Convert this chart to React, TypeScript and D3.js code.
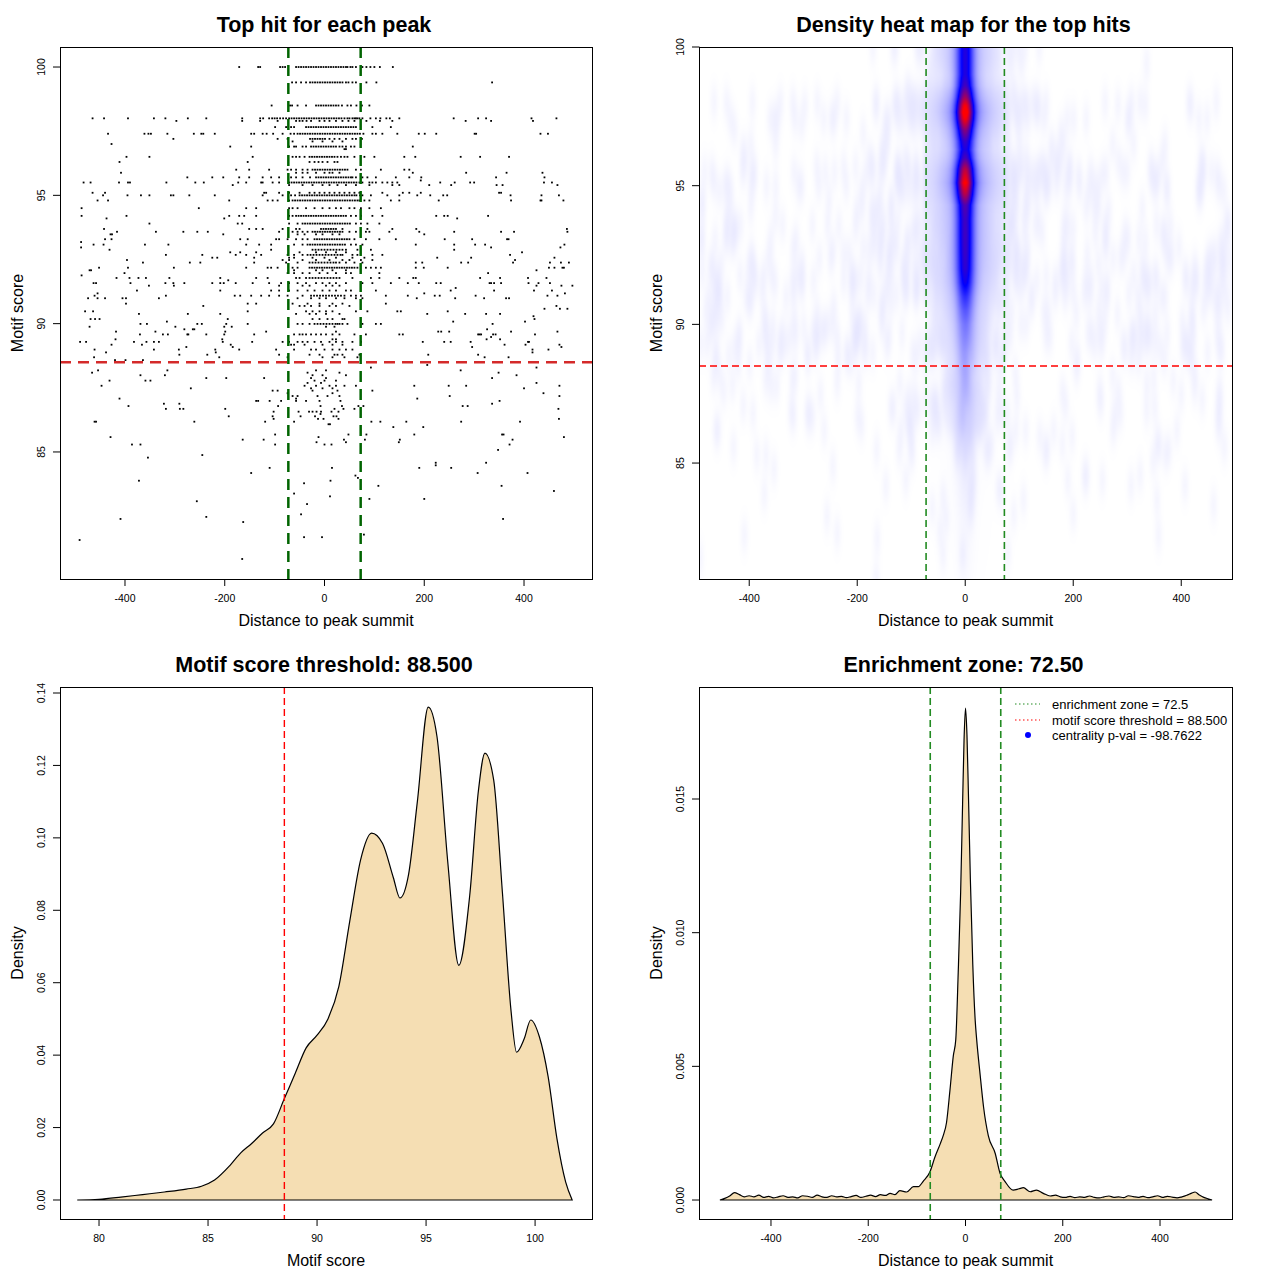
import React, { useMemo } from 'react';
import * as d3 from 'd3';

const FONT = '"Liberation Sans", Arial, Helvetica, sans-serif';

// thresholds shown in the figure
const enrichmentZone = 72.5;
const scoreThreshold = 88.5;
const centralityPval = '-98.7622';

// tick labels
const distanceTicks = [-400, -200, 0, 200, 400];
const scoreTicks = [85, 90, 95, 100];
const scoreDensityXTicks = [80, 85, 90, 95, 100];
const scoreDensityYTicks = [0, 0.02, 0.04, 0.06, 0.08, 0.1, 0.12, 0.14];
const distDensityYTicks = [0, 0.005, 0.01, 0.015];

// top hits, grouped by motif score: [score, distances to summit]
type Row = [number, number[]];
const upperHits: Row[] = [
  [100.0, [-171, -133, -129, -89, -84, -79, -57, -52, -47, -42, -37, -32, -27, -22, -17, -12, -7, -2, 3, 8, 13, 18, 23, 28, 33, 38, 43, 46, 52, 56, 63, 76, 84, 92, 100, 111, 137]],
  [99.4, [-65, -57, -47, -37, -29, -24, -19, -14, -9, -4, 1, 6, 11, 16, 21, 26, 31, 36, 43, 48, 56, 63, 84, 104, 336]],
  [98.5, [-106, -69, -65, -54, -37, -17, -12, -7, -2, 3, 8, 13, 18, 23, 28, 35, 46, 53, 64, 75, 90]],
  [98.0, [-465, -442, -394, -342, -319, -274, -237, -165, -129, -123, -111, -105, -100, -95, -89, -83, -77, -71, -66, -61, -56, -51, -46, -41, -36, -31, -26, -21, -16, -11, -6, -1, 4, 9, 14, 19, 24, 29, 34, 40, 46, 50, 56, 60, 63, 66, 70, 76, 92, 103, 112, 124, 131, 150, 259, 308, 324, 415, 465]],
  [97.9, [-297, -165, -129, -94, -57, -50, -44, -36, -27, -10, 0, 10, 23, 36, 48, 60, 84, 111, 136, 283, 334, 418]],
  [97.66, [-99, -77, -67, -61, -37, -32, -27, -22, -17, -12, -7, -2, 3, 8, 13, 18, 23, 28, 33, 38, 43, 48, 53, 58, 63, 96, 133]],
  [97.4, [-434, -361, -353, -348, -315, -262, -247, -243, -220, -147, -141, -124, -116, -103, -84, -68, -61, -54, -49, -44, -39, -34, -29, -24, -19, -14, -9, -4, 1, 6, 11, 16, 21, 26, 31, 36, 41, 46, 51, 56, 61, 66, 71, 78, 96, 103, 116, 146, 189, 201, 224, 301, 304, 433, 448]],
  [97.2, [-303, -94, -74, -29, -24, -19, -14, -9, -4, 1, 10, 20, 30, 43, 56, 63, 75]],
  [97.1, [-64, -24, -4, 16, 36]],
  [97.0, [-427]],
  [96.9, [-189, -147, -71, -61, -57, -44, -37, -27, -22, -17, -12, -7, -2, 3, 8, 13, 18, 23, 30, 36, 43, 53, 60, 177]],
  [96.8, [40, 43]],
  [96.5, [-397, -351, -144, -64, -57, -50, -40, -30, -25, -20, -15, -10, -5, 0, 5, 10, 15, 20, 26, 33, 40, 46, 60, 80, 100, 160, 182, 273, 312, 370]],
  [96.3, [-411, -154, -30, -20, -12, -4, 6, 20, 26]],
  [96.0, [-177, -151, -111, -74, -67, -57, -44, -34, -24, -19, -14, -9, -4, 1, 6, 11, 16, 21, 26, 31, 36, 41, 46, 63, 73, 113, 160, 170]],
  [95.88, [-408, -57, -44, -34, -17, 0, 10, 16, 30, 177, 284, 365, 437]],
  [95.7, [-275, -225, -203, -171, -151, -124, -107, -91, -67, -57, -44, -29, -17, -12, -7, -2, 3, 8, 13, 18, 23, 28, 33, 38, 43, 48, 53, 56, 63, 76, 86, 103, 143, 170, 194, 344, 441]],
  [95.58, [193]],
  [95.5, [-483, -469, -412, -394, -390, -317, -259, -242, -173, -157, -127, -124, -104, -91, -71, -66, -61, -56, -51, -46, -41, -36, -31, -26, -21, -16, -11, -6, -1, 4, 9, 14, 19, 24, 29, 34, 39, 44, 49, 54, 59, 64, 70, 76, 90, 96, 103, 116, 126, 136, 146, 232, 261, 292, 300, 440, 456]],
  [95.4, [-184, -71, -44, -24, -4, 10, 26, 43, 63, 90, 136, 150, 210, 254, 345, 357, 467]],
  [95.1, [-465, -440, -121, -117, -91, -71, -50, -30, -20, -10, 0, 10, 20, 30, 40, 50, 60, 70, 116, 157, 170, 193, 350, 354]],
  [95.0, [-444, -395, -368, -351, -308, -303, -271, -220, -124, -84, -67, -59, -50, -45, -40, -35, -30, -25, -20, -15, -10, -5, 0, 5, 10, 15, 20, 25, 30, 35, 40, 45, 50, 55, 60, 64, 71, 76, 93, 126, 150, 186, 212, 238, 246, 373, 435, 470]],
  [94.8, [-455, -434, -191, -114, -104, -94, -71, -64, -59, -54, -49, -44, -39, -34, -29, -24, -19, -14, -9, -4, 1, 6, 11, 16, 21, 26, 31, 36, 41, 46, 51, 56, 61, 66, 70, 80, 90, 133, 150, 229, 374, 433, 435, 479]],
  [94.5, [-487, -252, -157, -137, -71, -64, -54, -37, -20, -4, 10, 23, 33, 50, 60, 73, 90, 113]],
  [94.2, [-487, -397, -191, -171, -161, -137, -71, -64, -57, -52, -47, -42, -37, -32, -27, -22, -17, -12, -7, -2, 3, 8, 13, 18, 23, 28, 33, 38, 43, 53, 63, 73, 96, 116, 224, 240, 247, 328]],
  [94.1, [-437, -201, 266]],
  [93.9, [-351, -174, -165, -71, -54, -44, -39, -34, -29, -24, -19, -14, -9, -4, 1, 6, 11, 16, 21, 26, 31, 36, 41, 46, 51, 63, 73, 86, 110]],
];

const middleHits: Row[] = [
  [93.69, [-442, -151, -137, -124, -84, -57, -50, -7, -2, 3, 8, 13, 18, 23, 36, 86, 136, 184, 486]],
  [93.58, [-416, -338, -283, -255, -234, -91, -64, -54, -44, -34, -24, -19, -14, -9, -4, 1, 6, 11, 16, 21, 26, 31, 36, 50, 63, 83, 90, 130, 190, 260, 354, 380, 487]],
  [93.48, [-429, -426, -203, -54, -40, -17, -4, 16, 30, 200]],
  [93.29, [-440, -427, -169, -154, -97, -91, -74, -57, -44, -34, -20, -15, -10, -5, 0, 5, 10, 15, 20, 25, 30, 35, 40, 45, 50, 60, 83, 110, 143, 241, 296, 366, 369]],
  [93.18, [-488]],
  [93.08, [-463, -443, -360, -313, -157, -131, -107, -61, -44, -34, -29, -24, -19, -14, -9, -4, 1, 6, 11, 16, 21, 26, 31, 36, 41, 53, 63, 76, 183, 260, 302, 322, 481]],
  [92.97, [-488, 334, 473]],
  [92.88, [-431, -107, -24, -18, -12, -6, 0, 6, 12, 18, 24, 30, 36, 43, 66, 93, 260]],
  [92.78, [-189, -169, -137, -50, -17, 3, 23, 43, 396]],
  [92.68, [-318, -245, -178, -157, -127, -74, -61, -44, -34, -28, -22, -16, -10, -4, 2, 8, 14, 20, 26, 32, 36, 56, 66, 96, 116, 372]],
  [92.57, [-225, -215, -141, -71, -61, -24, 0, 23, 56, 80, 226, 294, 461]],
  [92.48, [-396, -84, -71, -44, -17, 10, 36, 50, 73, 96, 382]],
  [92.38, [-364, -270, -249, -141, -77, -54, -30, -24, -18, -12, -6, 0, 6, 12, 18, 23, 30, 43, 60, 76, 183, 196, 274, 288, 378, 452, 474, 490]],
  [92.18, [-452, -394, -302, -157, -114, -107, -94, -64, -54, -30, -25, -20, -15, -10, -5, 0, 5, 10, 15, 20, 25, 30, 35, 40, 45, 50, 55, 60, 66, 83, 93, 103, 113, 183, 199, 247, 450, 461, 477, 480]],
  [92.08, [-471, -468, -61, -17, -4, 16, 43, 425]],
  [91.97, [-401, -74, -61, -44, -30, -10, 6, 23, 43, 53, 110, 328]],
  [91.88, [-487]],
  [91.78, [-417, -391, -373, -358, -311, -209, -137, -114, -57, -50, -37, -30, -24, -18, -12, -6, 0, 6, 12, 18, 24, 30, 56, 93, 110, 150, 178, 183, 312, 352, 408, 445]],
  [91.69, [-193]],
  [91.58, [-463, -458, -389, -319, -303, -281, -225, -209, -202, -178, -144, -111, -87, -71, -54, -37, -17, -4, 10, 23, 43, 76, 96, 133, 167, 189, 224, 233, 331, 334, 340, 354, 409, 429, 452]],
  [91.48, [-352, -302, -91, -44, -30, 3, 16, 30, 425, 475, 497]],
  [91.39, [263]],
  [91.29, [-376, -209, -107, -91, -71, -54, -34, -20, -4, 10, 23, 43, 53, 103, 253, 340, 420, 456]],
  [91.18, [-455, 200, 482]],
  [91.09, [-461, -318, -180, -169, -147, -127, -111, -91, -74, -44, -27, -21, -15, -9, -3, 3, 9, 15, 21, 27, 33, 40, 53, 63, 73, 123, 167, 221, 231, 303, 447, 467]],
  [90.99, [-474, -455, -440, -405, -398, -332, -54, -27, -10, 3, 23, 40, 63, 76, 185, 262, 320, 364, 370]],
  [90.78, [-398, -154, -137, -64, -34, -10, 16, 36, 123]],
  [90.69, [-243, -50, -40, -27, -10, 10, 23, 50, 465]],
  [90.58, [441, 472, 487]],
  [90.48, [-480, -464, -154, -37, -24, -10, 3, 16, 63, 86, 146, 153, 247]],
  [90.38, [-372, -274, -209, -57, -30, -17, 3, 30, 206, 282, 324, 352]],
  [90.29, [419]],
  [90.18, [-469, -460, -451, -194, -24, -10, 6, 16, 36, 40, 421]],
  [90.08, [-316, 258, 402]],
  [89.99, [-369, -356, -255, -246, -197, -154, -54, -44, -30, -20, -14, -8, -2, 4, 10, 16, 22, 26, 30, 36, 46, 76, 103, 113, 337]],
  [89.88, [-471, -299, -201, -186, 3, 20]],
  [89.78, [-281, -264, -261, 326]],
  [89.69, [-418, -339, -199, -117, 23, 228, 234, 250, 374, 467]],
  [89.58, [-370, -324, -314, -275, -273, -237, -201, -141, -61, -50, -44, -37, -27, -17, -7, 3, 16, 30, 60, 83, 150, 157, 308, 311, 314, 338, 343, 422]],
  [89.48, [334]],
  [89.39, [-419, -205, 16, 23, 325, 352]],
  [89.29, [-490, -478, -382, -357, -342, -332, -204, -145, -84, -71, -54, -44, -34, -20, -7, 10, 23, 36, 56, 73, 197, 240, 253, 293, 408, 410]],
  [89.18, [-427, -366, -188, -67, -61, -40, -4, 16, 36, 361, 403, 471]],
  [89.09, [-277, -184, 296, 475]],
  [88.99, [-461, -342, -292, -219, -171, -97, -61, -27, -17, 0, 16, 30, 43, 56, 417, 449]],
  [88.88, [-438, -218, 417]],
  [88.79, [-291, -235, -91, -30, -10, 20, 26, 36, 70, 208, 308]],
  [88.69, [-462, -211, -74, -4, 16, 40, 66, 321, 369]],
  [88.58, [-420, -399, -364]],
  [88.39, [206]],
  [88.29, [93, 425]],
  [88.18, [-454, -315, -17, 3, 273]],
  [88.09, [-466, -34, 30, 349]],
  [87.99, [-369, -320, -24, -4, 43, 385]],
  [87.88, [-237, -197, -121, -27, 3, 336]],
  [87.78, [-431, -359, -349, -20, 0, 23]],
  [87.69, [-34, -7, 425]],
  [87.58, [-447, -40, -17, 10, 23, 40, 63, 180, 249, 284, 471]],
  [87.48, [-268, -27, -4, 16, 400]],
  [87.39, [-104, -94, -24, 26, 96]],
  [87.29, [-74, 16, 439]],
  [87.18, [-64, -54, -14, 6, 30, 251, 471]],
  [87.08, [-411, -57, 186]],
  [86.99, [-137, -133, -110, -87, -57, -37, -10, 32, 351]],
  [86.88, [-322, -291, 336]],
];

const lowerHits: Row[] = [
  [86.79, [-393, -93, -8, 35, 68, 78, 277, 287]],
  [86.68, [-318, -290, -283, -199, 20, 38, 60, 469]],
  [86.57, [-102, -52, -31, -24, -16, -7, 14, 28]],
  [86.48, [-8]],
  [86.39, [-192, -104, -48, -19, 18, 24]],
  [86.29, [-102, -13, -2, 28, 470]],
  [86.18, [-461, -458, -261, -119, -61, 94, 112, 164, 274, 392]],
  [86.08, [8, 11]],
  [85.97, [138, 198]],
  [85.68, [-99, 48, 84, 180, 356, 359]],
  [85.58, [-429, -12, 480]],
  [85.48, [-164, -122, 39, 81, 151, 377]],
  [85.38, [-16, 43, 149]],
  [85.29, [-386, -369, -99, 0, 14, 371]],
  [85.08, [348]],
  [84.88, [-245]],
  [84.78, [-354]],
  [84.58, [223, 324]],
  [84.48, [223]],
  [84.38, [-110, 15, 190, 254]],
  [84.18, [-147, 307, 407]],
  [84.08, [62]],
  [83.99, [67]],
  [83.88, [-372, 12]],
  [83.78, [-41]],
  [83.68, [108, 355]],
  [83.48, [460]],
  [83.38, [-61]],
  [83.27, [11]],
  [83.17, [90, 200]],
  [83.08, [-256]],
  [82.97, [-35]],
  [82.57, [-47]],
  [82.47, [-237]],
  [82.39, [-409, 358]],
  [82.27, [-163]],
  [81.78, [79]],
  [81.68, [-41, -5]],
  [81.57, [-491]],
  [80.83, [-165]],
];

// heat map intensity read along the summit column (distance 0), 0 = white, 0.5 = blue, 1 = red
const summitScores = [100, 99.5, 99, 98.6, 98.2, 97.9, 97.65, 97.4, 97.0, 96.6, 96.3, 96.0, 95.6, 95.1, 94.7, 94.3, 93.8, 93.2, 92.6, 92.0, 91.5, 91.0, 90.5, 90.0, 89.5, 89.0, 88.5, 88.0, 87.0, 86.0, 85.0, 84.0, 83.0, 81.0];
const summitLevels = [0.52, 0.52, 0.52, 0.58, 0.75, 0.92, 1.0, 0.92, 0.7, 0.55, 0.5, 0.58, 0.8, 0.95, 0.8, 0.6, 0.56, 0.56, 0.55, 0.53, 0.47, 0.36, 0.28, 0.22, 0.19, 0.16, 0.14, 0.12, 0.09, 0.06, 0.04, 0.03, 0.02, 0.01];

// density of motif scores
const scoreGrid = [79.0, 80, 81, 82, 83, 84, 84.7, 85.3, 86, 86.5, 87, 87.5, 88, 88.5, 89, 89.5, 90, 90.5, 91, 91.5, 92, 92.5, 93, 93.5, 93.8, 94.2, 94.6, 95.1, 95.5, 96, 96.5, 97, 97.4, 97.7, 98.1, 98.5, 98.9, 99.15, 99.5, 99.8, 100.2, 100.6, 101, 101.4, 101.7];
const scoreDensity = [0, 0.0002, 0.0008, 0.0015, 0.0022, 0.003, 0.0038, 0.0055, 0.0095, 0.013, 0.0156, 0.0185, 0.021, 0.028, 0.035, 0.042, 0.0455, 0.05, 0.059, 0.077, 0.094, 0.1013, 0.0985, 0.089, 0.0834, 0.09, 0.11, 0.1361, 0.128, 0.093, 0.0648, 0.084, 0.113, 0.1234, 0.116, 0.085, 0.052, 0.0408, 0.0445, 0.0497, 0.045, 0.034, 0.017, 0.005, 0];

// density of distances to the summit
const distanceGrid = [-505, -495, -485, -475, -465, -455, -445, -435, -425, -415, -405, -395, -385, -375, -365, -355, -345, -335, -325, -315, -305, -295, -285, -275, -265, -255, -245, -235, -225, -215, -205, -195, -185, -175, -165, -155, -145, -135, -121, -107, -97, -87, -73, -63, -52, -46, -39, -32, -25, -20, -15, -10, -6, -3, 0, 3, 6, 10, 15, 20, 23, 30, 37, 47, 61, 71, 81, 98, 110, 119, 133, 146, 160, 174, 185, 195, 205, 215, 225, 235, 245, 255, 265, 275, 285, 295, 305, 315, 325, 335, 345, 355, 365, 375, 385, 395, 405, 415, 425, 435, 445, 455, 465, 472, 480, 490, 500, 507];
const distanceDensity = [0, 0.00006, 0.00015, 0.00028, 0.0002, 0.00012, 0.00016, 0.00012, 0.00018, 0.0001, 0.00014, 0.00008, 0.00012, 0.00016, 0.0001, 0.00012, 0.00008, 0.00016, 0.00014, 0.0001, 0.00018, 0.00012, 0.0001, 0.00016, 0.00012, 0.00014, 0.00009, 0.00013, 0.00017, 0.0001, 0.00014, 0.00018, 0.00013, 0.0002, 0.00017, 0.00025, 0.0002, 0.00035, 0.0003, 0.0005, 0.0005, 0.0007, 0.00106, 0.0016, 0.0021, 0.0024, 0.0029, 0.0041, 0.0054, 0.006, 0.0085, 0.0115, 0.0148, 0.0172, 0.0184, 0.0174, 0.0152, 0.012, 0.0088, 0.0067, 0.006, 0.0047, 0.0035, 0.0024, 0.00175, 0.001, 0.0007, 0.00037, 0.00042, 0.00046, 0.00031, 0.00037, 0.00025, 0.00015, 0.00018, 0.00012, 0.0001, 0.00014, 0.00009, 0.00012, 0.0001, 0.00015, 0.0001, 0.00008, 0.00012, 0.00015, 0.0001, 0.00012, 0.00009, 0.00016, 0.00013, 0.0001, 0.00014, 0.00009, 0.00012, 0.00016, 0.0001, 0.00014, 0.00011, 0.00008, 0.00012, 0.00018, 0.00026, 0.0003, 0.0002, 0.0001, 0.00004, 0];

interface Box { x0: number; x1: number; y0: number; y1: number; }

const scatterBox: Box = { x0: 60, x1: 592, y0: 47, y1: 579 };
const heatBox: Box = { x0: 699, x1: 1232, y0: 47, y1: 579 };
const scoreBox: Box = { x0: 60, x1: 592, y0: 687, y1: 1219 };
const distBox: Box = { x0: 699, x1: 1232, y0: 687, y1: 1219 };

const hits = [...upperHits, ...middleHits, ...lowerHits].flatMap(([s, ds]) => ds.map((d) => ({ d, s })));

interface FrameProps {
  box: Box;
  x: d3.ScaleLinear<number, number>;
  y: d3.ScaleLinear<number, number>;
  xTicks: number[];
  yTicks: number[];
  yFmt?: (v: number) => string;
  title: string;
  xLabel: string;
  yLabel: string;
}

function Frame({ box, x, y, xTicks, yTicks, yFmt, title, xLabel, yLabel }: FrameProps) {
  const cx = (box.x0 + box.x1) / 2;
  const cy = (box.y0 + box.y1) / 2;
  const fmt = yFmt || ((v: number) => String(v));
  return (
    <g fontFamily={FONT} fill="#000">
      <rect x={box.x0 + 0.5} y={box.y0 + 0.5} width={box.x1 - box.x0} height={box.y1 - box.y0}
        fill="none" stroke="#000" strokeWidth={1} />
      {xTicks.map((t) => (
        <g key={'x' + t}>
          <line x1={x(t)} x2={x(t)} y1={box.y1 + 0.5} y2={box.y1 + 7} stroke="#000" />
          <text x={x(t)} y={box.y1 + 23} fontSize={10.5} textAnchor="middle">{t}</text>
        </g>
      ))}
      {yTicks.map((t) => (
        <g key={'y' + t}>
          <line x1={box.x0 - 7} x2={box.x0 + 0.5} y1={y(t)} y2={y(t)} stroke="#000" />
          <text transform={`translate(${box.x0 - 15},${y(t)}) rotate(-90)`} fontSize={10.5}
            textAnchor="middle">{fmt(t)}</text>
        </g>
      ))}
      <text x={cx - 2} y={box.y0 - 15} fontSize={21.5} fontWeight="bold" textAnchor="middle">{title}</text>
      <text x={cx} y={box.y1 + 47} fontSize={16} textAnchor="middle">{xLabel}</text>
      <text transform={`translate(${box.x0 - 37},${cy}) rotate(-90)`} fontSize={16}
        textAnchor="middle">{yLabel}</text>
    </g>
  );
}

function heatColour(t: number): [number, number, number] {
  if (t < 0.5) {
    const u = t / 0.5;
    return [255 * (1 - u), 255 * (1 - u), 255];
  }
  const u = (t - 0.5) / 0.5;
  return [255 * u, 0, 255 * (1 - u)];
}

export default function App() {
  // top-left scatter
  const sx = d3.scaleLinear().domain([-530.3, 536.3]).range([scatterBox.x0, scatterBox.x1]);
  const sy = d3.scaleLinear().domain([80.05, 100.78]).range([scatterBox.y1, scatterBox.y0]);

  // top-right heat map
  const hx = d3.scaleLinear().domain([-493, 494]).range([heatBox.x0, heatBox.x1]);
  const hy = d3.scaleLinear().domain([80.82, 100]).range([heatBox.y1, heatBox.y0]);

  // bottom-left score density
  const mx = d3.scaleLinear().domain([78.21, 102.61]).range([scoreBox.x0, scoreBox.x1]);
  const my = d3.scaleLinear().domain([-0.00525, 0.14166]).range([scoreBox.y1, scoreBox.y0]);

  // bottom-right distance density
  const dx = d3.scaleLinear().domain([-548, 548]).range([distBox.x0, distBox.x1]);
  const dy = d3.scaleLinear().domain([-0.00071, 0.01919]).range([distBox.y1, distBox.y0]);

  const heatUrl = useMemo(() => {
    const w = heatBox.x1 - heatBox.x0;
    const h = heatBox.y1 - heatBox.y0;
    const canvas = document.createElement('canvas');
    canvas.width = w;
    canvas.height = h;
    const ctx = canvas.getContext('2d');
    if (!ctx) return '';
    const bg = new Float32Array(w * h);
    const pxPerX = w / (494 + 493);
    const pxPerY = h / (100 - 80.82);
    const sgx = 5 * pxPerX;
    const sgy = 0.45 * pxPerY;
    const rx = Math.ceil(3 * sgx);
    const ry = Math.ceil(3 * sgy);
    hits.forEach(({ d, s }) => {
      const px = hx(d) - heatBox.x0;
      const py = hy(s) - heatBox.y0;
      const i0 = Math.max(0, Math.floor(px - rx));
      const i1 = Math.min(w - 1, Math.ceil(px + rx));
      const j0 = Math.max(0, Math.floor(py - ry));
      const j1 = Math.min(h - 1, Math.ceil(py + ry));
      for (let j = j0; j <= j1; j++) {
        const ey = (j + 0.5 - py) / sgy;
        const gy = Math.exp(-0.5 * ey * ey);
        for (let i = i0; i <= i1; i++) {
          const ex = (i + 0.5 - px) / sgx;
          bg[j * w + i] += gy * Math.exp(-0.5 * ex * ex);
        }
      }
    });
    const profile = d3.scaleLinear().domain(summitScores).range(summitLevels).clamp(true);
    const img = ctx.createImageData(w, h);
    for (let j = 0; j < h; j++) {
      const s = hy.invert(heatBox.y0 + j + 0.5);
      const p = profile(s);
      for (let i = 0; i < w; i++) {
        const d = hx.invert(heatBox.x0 + i + 0.5);
        const core = p * (0.8 * Math.exp(-(d * d) / 242) + 0.2 * Math.exp(-(d * d) / 1800));
        const t = Math.min(1, core + 0.06 * (1 - Math.exp(-bg[j * w + i] / 3)));
        const [r, g, b] = heatColour(t);
        const k = (j * w + i) * 4;
        img.data[k] = r;
        img.data[k + 1] = g;
        img.data[k + 2] = b;
        img.data[k + 3] = 255;
      }
    }
    ctx.putImageData(img, 0, 0);
    return canvas.toDataURL();
  }, []);

  const scoreLine = d3.line<number>()
    .x((_, i) => mx(scoreGrid[i]))
    .y((v) => my(v))
    .curve(d3.curveMonotoneX);
  const distLine = d3.line<number>()
    .x((_, i) => dx(distanceGrid[i]))
    .y((v) => dy(v))
    .curve(d3.curveMonotoneX);

  const fmt2 = (v: number) => v.toFixed(2);
  const fmt3 = (v: number) => v.toFixed(3);

  return (
    <svg width={1280} height={1280} style={{ position: 'absolute', left: 0, top: 0, background: '#fff' }}>
      <defs>
        {[scatterBox, heatBox, scoreBox, distBox].map((b, i) => (
          <clipPath id={'clip' + i} key={i}>
            <rect x={b.x0} y={b.y0} width={b.x1 - b.x0 + 1} height={b.y1 - b.y0 + 1} />
          </clipPath>
        ))}
      </defs>
      <rect width={1280} height={1280} fill="#fff" />

      {/* Top hit for each peak */}
      <g clipPath="url(#clip0)">
        {hits.map((p, i) => (
          <rect key={i} x={sx(p.d) - 0.9} y={sy(p.s) - 0.9} width={1.8} height={1.8} fill="#000" />
        ))}
        <line x1={scatterBox.x0} x2={scatterBox.x1} y1={sy(scoreThreshold)} y2={sy(scoreThreshold)}
          stroke="#d42a2a" strokeWidth={2.5} strokeDasharray="11 7" />
        {[-enrichmentZone, enrichmentZone].map((z) => (
          <line key={z} x1={sx(z)} x2={sx(z)} y1={scatterBox.y0} y2={scatterBox.y1}
            stroke="#006400" strokeWidth={2.5} strokeDasharray="11 7" />
        ))}
      </g>
      <Frame box={scatterBox} x={sx} y={sy} xTicks={distanceTicks} yTicks={scoreTicks}
        title="Top hit for each peak" xLabel="Distance to peak summit" yLabel="Motif score" />

      {/* Density heat map */}
      <g clipPath="url(#clip1)">
        {heatUrl && (
          <image href={heatUrl} x={heatBox.x0} y={heatBox.y0} width={heatBox.x1 - heatBox.x0}
            height={heatBox.y1 - heatBox.y0} preserveAspectRatio="none" />
        )}
        <line x1={heatBox.x0} x2={heatBox.x1} y1={hy(scoreThreshold)} y2={hy(scoreThreshold)}
          stroke="#f00" strokeWidth={1.4} strokeDasharray="7 4" />
        {[-enrichmentZone, enrichmentZone].map((z) => (
          <line key={z} x1={hx(z)} x2={hx(z)} y1={heatBox.y0} y2={heatBox.y1}
            stroke="#228b22" strokeWidth={1.6} strokeDasharray="7 4" />
        ))}
      </g>
      <Frame box={heatBox} x={hx} y={hy} xTicks={distanceTicks} yTicks={scoreTicks}
        title="Density heat map for the top hits" xLabel="Distance to peak summit" yLabel="Motif score" />

      {/* Motif score density */}
      <g clipPath="url(#clip2)">
        <path d={(scoreLine(scoreDensity) || '') + 'Z'} fill="#f5deb3" stroke="#000" strokeWidth={1.2} />
        <line x1={mx(scoreThreshold)} x2={mx(scoreThreshold)} y1={scoreBox.y0} y2={scoreBox.y1}
          stroke="#f00" strokeWidth={1.4} strokeDasharray="7 4" />
      </g>
      <Frame box={scoreBox} x={mx} y={my} xTicks={scoreDensityXTicks} yTicks={scoreDensityYTicks} yFmt={fmt2}
        title={`Motif score threshold: ${scoreThreshold.toFixed(3)}`} xLabel="Motif score" yLabel="Density" />

      {/* Distance density */}
      <g clipPath="url(#clip3)">
        <path d={(distLine(distanceDensity) || '') + 'Z'} fill="#f5deb3" stroke="#000" strokeWidth={1.2} />
        {[-enrichmentZone, enrichmentZone].map((z) => (
          <line key={z} x1={dx(z)} x2={dx(z)} y1={distBox.y0} y2={distBox.y1}
            stroke="#228b22" strokeWidth={1.6} strokeDasharray="7 4" />
        ))}
      </g>
      <Frame box={distBox} x={dx} y={dy} xTicks={distanceTicks} yTicks={distDensityYTicks} yFmt={fmt3}
        title={`Enrichment zone: ${enrichmentZone.toFixed(2)}`} xLabel="Distance to peak summit" yLabel="Density" />

      {/* legend */}
      <g fontFamily={FONT} fontSize={13}>
        <line x1={1015} x2={1040} y1={704} y2={704} stroke="#228b22" strokeWidth={1.2} strokeDasharray="1.5 2.5" />
        <text x={1052} y={708.5}>{`enrichment zone = ${enrichmentZone}`}</text>
        <line x1={1015} x2={1040} y1={720} y2={720} stroke="#f00" strokeWidth={1.2} strokeDasharray="1.5 2.5" />
        <text x={1052} y={724.5}>{`motif score threshold = ${scoreThreshold.toFixed(3)}`}</text>
        <circle cx={1028} cy={735} r={3} fill="#00f" />
        <text x={1052} y={739.5}>{`centrality p-val = ${centralityPval}`}</text>
      </g>
    </svg>
  );
}
